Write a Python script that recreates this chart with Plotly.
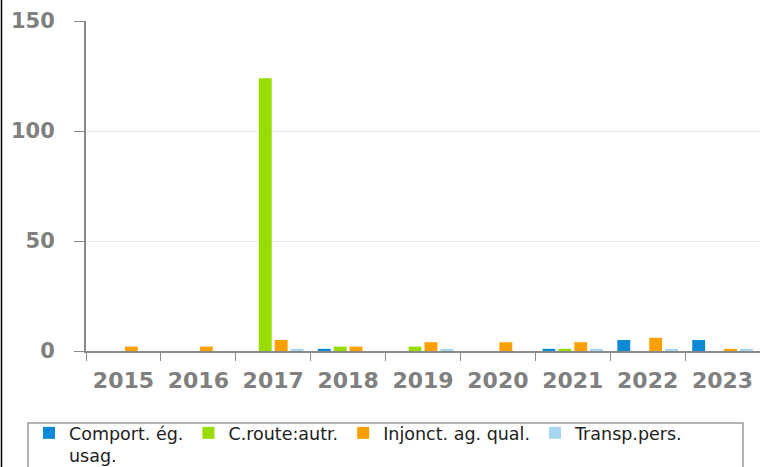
import plotly.graph_objects as go

years = ["2015", "2016", "2017", "2018", "2019", "2020", "2021", "2022", "2023"]
comport = [0, 0, 0, 1, 0, 0, 1, 5, 5]
croute = [0, 0, 124, 2, 2, 0, 1, 0, 0]
injonct = [2, 2, 5, 2, 4, 4, 4, 6, 1]
transp = [0, 0, 1, 0, 1, 0, 1, 1, 1]

series_names = ["Comport. ég.<br>usag.", "C.route:autr.", "Injonct. ag. qual.", "Transp.pers."]
series_values = [comport, croute, injonct, transp]
series_colors = ["#0a8ad6", "#99dd00", "#fca000", "#a8d6f0"]

W, H = 760, 467
ML, MR, MT, MB = 86, 0, 21, 116
PW = W - ML - MR
PH = H - MT - MB


def px_x(px):
    return (px - ML) / PW


def px_y(py):
    return (MT + PH - py) / PH


fig = go.Figure()
for name, vals, col in zip(series_names, series_values, series_colors):
    fig.add_trace(go.Bar(x=years, y=vals, name=name, marker=dict(color=col, line=dict(width=0))))

fig.update_layout(
    width=W, height=H,
    margin=dict(l=ML, r=MR, t=MT, b=MB, pad=0, autoexpand=False),
    paper_bgcolor="white", plot_bgcolor="white",
    barmode="group", bargap=0.15, bargroupgap=0.19,
    font=dict(family="DejaVu Sans"),
    legend=dict(
        orientation="h", xref="container", yref="container",
        x=29 / W, xanchor="left",
        y=1 - 415 / H, yanchor="top",
        borderwidth=0, bgcolor="rgba(0,0,0,0)", valign="top",
        font=dict(family="DejaVu Sans", size=17.5, color="#222222"),
        itemwidth=30, tracegroupgap=0,
    ),
    xaxis=dict(
        type="category", tickson="boundaries", ticks="outside", ticklen=8,
        tickcolor="#888888", showline=True, linecolor="#888888", linewidth=2,
        tickfont=dict(family="DejaVu Sans", size=22, color="#808080", weight="bold"),
        showgrid=False, ticklabelstandoff=9,
    ),
    yaxis=dict(
        range=[0, 150], tickvals=[0, 50, 100, 150], ticks="outside", ticklen=10,
        tickcolor="#888888", showline=True, linecolor="#888888", linewidth=2,
        showgrid=True, gridcolor="#e8e8e8", zeroline=False,
        tickfont=dict(family="DejaVu Sans", size=21, color="#808080", weight="bold"),
        ticklabelstandoff=15,
    ),
    shapes=[
        dict(type="line", xref="paper", yref="paper",
             x0=px_x(1.5), x1=px_x(1.5), y0=px_y(H + 5), y1=px_y(-5),
             line=dict(color="black", width=1.5)),
        dict(type="rect", xref="paper", yref="paper", layer="below",
             x0=px_x(28), x1=px_x(743), y0=px_y(423), y1=px_y(H + 10),
             line=dict(color="#999999", width=1.5), fillcolor="rgba(0,0,0,0)"),
    ],
)

fig.write_html("out.html", config={"displayModeBar": False},
               post_script="document.body.style.margin='0';document.body.style.overflow='hidden';")
